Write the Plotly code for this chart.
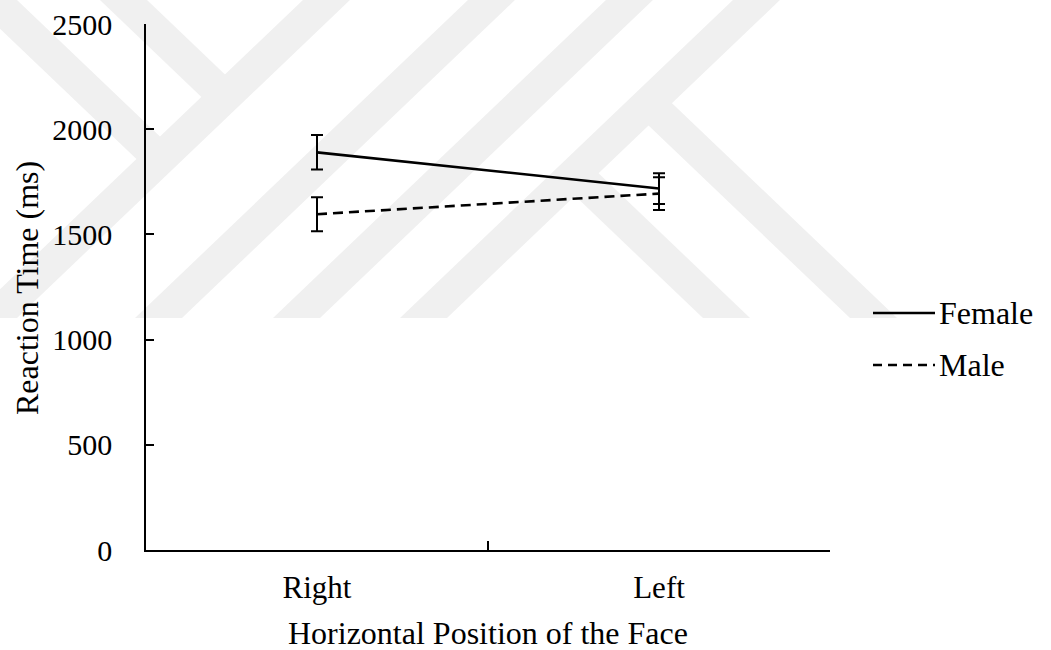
import plotly.graph_objects as go

# ---- data -------------------------------------------------------------
positions = ["Right", "Left"]
female_rt = [1890, 1718]
female_se = [82, 73]
male_rt = [1596, 1694]
male_se = [81, 78]
y_ticks = [0, 500, 1000, 1500, 2000, 2500]

# ---- page geometry (pixels) -------------------------------------------
W_PX, H_PX = 1051, 650
PL, PR, PT, PB = 146, 830, 24, 550
FONT = "'Liberation Serif', 'Times New Roman', Times, serif"


def fx(px):
    return (px - PL) / (PR - PL)


def fy(py):
    return (PB - py) / (PB - PT)


fig = go.Figure()

fig.add_trace(go.Scatter(
    x=positions, y=female_rt, name="Female", mode="lines",
    line=dict(color="black", width=2.6),
    error_y=dict(type="data", array=female_se, visible=True,
                 color="black", thickness=2, width=6),
    showlegend=False,
))
fig.add_trace(go.Scatter(
    x=positions, y=male_rt, name="Male", mode="lines",
    line=dict(color="black", width=2.6, dash="10px,6px"),
    error_y=dict(type="data", array=male_se, visible=True,
                 color="black", thickness=2, width=6),
    showlegend=False,
))

# ---- background emblem: light grey diagonal bands ----------------------
SLANT = 1.047      # horizontal run per pixel of drop
BAND = 47          # band width in px
FOOT = 318         # lower edge of the emblem
GREY = "#f0f0f0"


def path(pts):
    return "M " + " L ".join(f"{fx(x):.5f},{fy(y):.5f}" for x, y in pts) + " Z"


def rising(b):
    return [(b, FOOT), (b + BAND, FOOT),
            (b + BAND + FOOT * SLANT, 0), (b + FOOT * SLANT, 0)]


def centre(p, y):
    return p + BAND / 2 + (FOOT - y) * SLANT


def falling_from_foot(q, p):
    yl = FOOT - (q - p - BAND / 2) / (2 * SLANT)
    yr = FOOT - (q + BAND - p - BAND / 2) / (2 * SLANT)
    return [(q, FOOT), (q + BAND, FOOT),
            (centre(p, yr), yr), (centre(p, yl), yl)]


def falling_from_top(t, p):
    yl = (p + BAND / 2 + FOOT * SLANT - t) / (2 * SLANT)
    yr = (p + BAND / 2 + FOOT * SLANT - t - BAND) / (2 * SLANT)
    return [(t, 0), (t + BAND, 0),
            (centre(p, yr), yr), (centre(p, yl), yl)]


bands = [rising(-30), rising(135), rising(273), rising(400),
         falling_from_top(-30, -30), falling_from_top(100, -30),
         falling_from_foot(703, 400), falling_from_foot(850, 400)]
for pts in bands:
    fig.add_shape(type="path", path=path(pts), xref="paper", yref="paper",
                  fillcolor=GREY, line=dict(width=0), layer="below")

# ---- legend drawn beside the plot -------------------------------------
legend_rows = [("Female", "solid", 313), ("Male", "9px,6px", 365)]
for label, dash, ypx in legend_rows:
    fig.add_shape(type="line", xref="paper", yref="paper",
                  x0=fx(873), x1=fx(935), y0=fy(ypx), y1=fy(ypx),
                  line=dict(color="black", width=2.6, dash=dash))
    fig.add_annotation(text=label, xref="paper", yref="paper",
                       x=fx(937), y=fy(ypx), xanchor="left", yanchor="middle",
                       showarrow=False, font=dict(family=FONT, size=32, color="black"))

# ---- axis titles --------------------------------------------------------
fig.add_annotation(text="Horizontal Position of the Face", xref="paper", yref="paper",
                   x=fx(488), y=fy(633), xanchor="center", yanchor="middle",
                   showarrow=False, font=dict(family=FONT, size=32, color="black"))
fig.add_annotation(text="Reaction Time (ms)", xref="paper", yref="paper",
                   x=fx(27), y=fy(288), xanchor="center", yanchor="middle",
                   textangle=-90, showarrow=False,
                   font=dict(family=FONT, size=32, color="black"))

fig.update_xaxes(
    type="category", categoryorder="array", categoryarray=positions,
    range=[-0.5, 1.5], showline=True, linecolor="black", linewidth=1.5,
    ticks="inside", ticklen=9, tickwidth=1.5, tickcolor="black",
    tickson="boundaries", showgrid=False, zeroline=False,
    tickfont=dict(family=FONT, size=31, color="black"),
    ticklabelstandoff=9, automargin=False,
)
fig.update_yaxes(
    range=[0, 2500], tickvals=y_ticks, showline=True, linecolor="black",
    linewidth=1.5, ticks="inside", ticklen=8, tickwidth=1.5, tickcolor="black",
    showgrid=False, zeroline=False,
    tickfont=dict(family=FONT, size=30, color="black"),
    ticklabelstandoff=26, automargin=False,
)

fig.update_layout(
    width=W_PX, height=H_PX,
    margin=dict(l=PL, r=W_PX - PR, t=PT, b=H_PX - PB, pad=0),
    paper_bgcolor="white", plot_bgcolor="rgba(0,0,0,0)",
    showlegend=False,
)

fig.write_html("out.html")
